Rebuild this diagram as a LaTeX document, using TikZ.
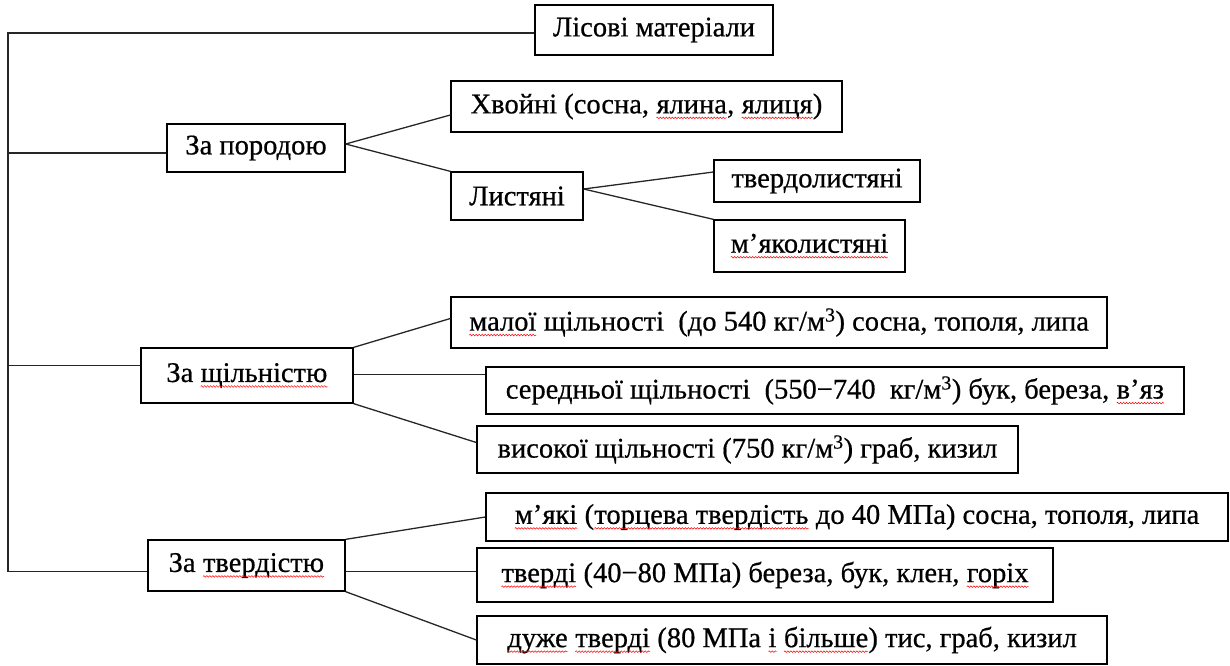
\documentclass[tikz,border=0pt]{standalone}
\usepackage{fontspec}
\setmainfont[FakeBold=0.6]{Liberation Serif}
\usepackage{xcolor}
\usepackage{tikz}
\usetikzlibrary{positioning, calc, decorations.pathmorphing}

% red wavy spell-check underline
\newcommand\spellmark[1]{\tikz[baseline=(w.base)]{\node[draw=none, inner sep=0pt, outer sep=0pt, minimum width=0pt, minimum height=0pt] (w) {#1};
    \draw[red, line width=0.5pt, decorate, decoration={snake, amplitude=0.8pt, segment length=3pt}]
    ([yshift=-4.5pt]w.base west) -- ([yshift=-4.5pt]w.base east);}}

\begin{document}
\begin{tikzpicture}[x=1pt, y=-1pt,
    box/.style={draw, line width=1.3pt, inner sep=0pt, font=\fontsize{28.5}{32}\selectfont},
    link/.style={line width=1.3pt, draw=black!85}]
    \useasboundingbox (0,0) rectangle (1230,665);

    % root and trunk
    \node[box, minimum width=238pt, minimum height=50pt] (root) at (654,30) {Лісові матеріали};
    \coordinate (trunk) at (8,572);
    \draw[link] ([yshift=-3pt]root.west) -| (trunk);

    % by species
    \node[box, minimum width=178pt, minimum height=48pt] (poroda) at (256,148) {За породою};
    \node[box, minimum width=391pt, minimum height=51pt] (khvoini) at (646.5,106.5) {Хвойні (сосна, \spellmark{ялина}, \spellmark{ялиця})};
    \node[box, minimum width=132pt, minimum height=48pt] (lystiani) at (517,196) {Листяні};
    \node[box, minimum width=206pt, minimum height=42pt] (tverdol) at (817,181) {твердолистяні};
    \node[box, minimum width=191pt, minimum height=52pt] (miakol) at (809.5,246) {\spellmark{м’яколистяні}};

    \coordinate (pL) at ([yshift=-5pt]poroda.west);
    \draw[link] (pL) -- (pL -| trunk);
    \draw[link] ([yshift=4pt]poroda.east) -- ([yshift=-8.5pt]khvoini.west);
    \draw[link] ([yshift=4pt]poroda.east) -- (lystiani.north west);
    \draw[link] ([yshift=7pt]lystiani.east) -- ([yshift=9pt]tverdol.west);
    \draw[link] ([yshift=7pt]lystiani.east) -- (miakol.north west);

    % by density
    \node[box, minimum width=212pt, minimum height=55pt] (shchil) at (247,375.5) {За \spellmark{щільністю}};
    \node[box, minimum width=656pt, minimum height=51pt] (mala) at (779,322.5) {\spellmark{малої} щільності~ (до 540 кг/м\textsuperscript{3}) сосна, тополя, липа};
    \node[box, minimum width=698pt, minimum height=47pt] (serednia) at (835,390.5) {середньої щільності~ (550−740~ кг/м\textsuperscript{3}) бук, береза, \spellmark{в’яз}};
    \node[box, minimum width=541pt, minimum height=47pt] (vysoka) at (747.5,449.5) {високої щільності (750 кг/м\textsuperscript{3}) граб, кизил};

    \coordinate (sL) at ([yshift=10pt]shchil.west);
    \draw[link] (sL) -- (sL -| trunk);
    \draw[link] (shchil.north east) -- ([yshift=4pt]mala.west);
    \coordinate (sR) at ([yshift=1pt]shchil.east);
    \draw[link] (sR) -- (sR -| serednia.west);
    \draw[link] (shchil.south east) -- ([yshift=7pt]vysoka.west);

    % by hardness
    \node[box, minimum width=197pt, minimum height=51pt] (tverd) at (246.5,565.5) {За \spellmark{твердістю}};
    \node[box, minimum width=742pt, minimum height=48pt] (miaki) at (857,517) {\spellmark{м’які} (\spellmark{торцева твердість} до 40 МПа) сосна, тополя, липа};
    \node[box, minimum width=576pt, minimum height=54pt] (tverdi) at (765,575) {\spellmark{тверді} (40−80 МПа) береза, бук, клен, \spellmark{горіх}};
    \node[box, minimum width=630pt, minimum height=48pt] (duzhe) at (792,640) {\spellmark{дуже} \spellmark{тверді} (80 МПа \spellmark{і} \spellmark{більше}) тис, граб, кизил};

    \coordinate (tL) at ([yshift=-6pt]tverd.west);
    \draw[link] (tL) -- (tL -| trunk);
    \draw[link] (tverd.north east) -- (miaki.west);
    \coordinate (tR) at ([yshift=-6pt]tverd.east);
    \draw[link] (tR) -- (tR -| tverdi.west);
    \draw[link] (tverd.south east) -- (duzhe.west);
\end{tikzpicture}
\end{document}
